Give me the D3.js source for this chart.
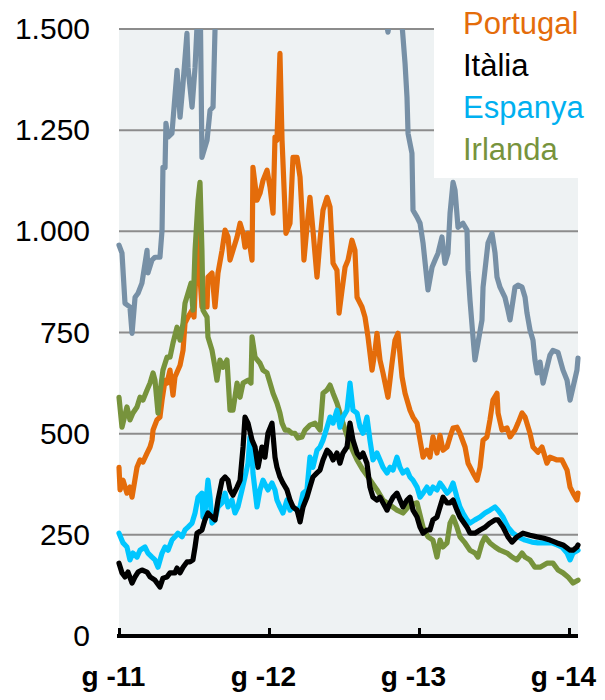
<!DOCTYPE html>
<html>
<head>
<meta charset="utf-8">
<script src="https://cdn.jsdelivr.net/npm/d3@7"></script>
<style>
  body { margin: 0; background: #fff; }
  text { font-family: "Liberation Sans", Arial, sans-serif; }
</style>
</head>
<body>
<svg id="chart" width="605" height="700"></svg>
<script>
// dades: [any decimal, punts bàsics]
const yTicks = [0, 250, 500, 750, 1000, 1250, 1500];
const xTicks = [2011, 2012, 2013, 2014];
const legendNames = ["Portugal", "Itàlia", "Espanya", "Irlanda"];

const greece = [
  [2011.000,966],[2011.020,946],[2011.040,822],[2011.073,813],[2011.087,748],[2011.107,837],[2011.127,847],
  [2011.153,872],[2011.187,953],[2011.193,897],[2011.220,929],[2011.240,936],[2011.273,936],[2011.287,1003],
  [2011.293,1158],[2011.307,1158],[2011.313,1267],[2011.327,1233],[2011.353,1242],[2011.387,1398],[2011.407,1282],
  [2011.427,1366],[2011.453,1489],[2011.460,1405],[2011.487,1307],[2011.507,1405],[2011.527,1560],[2011.540,1620],
  [2011.553,1183],[2011.587,1225],[2011.607,1299],[2011.627,1307],[2011.640,1497],[2011.660,1650],[2011.750,1900],
  [2011.850,2200],[2011.950,2600],[2012.050,3000],[2012.150,3400],[2012.250,2100],[2012.400,2600],[2012.550,2300],
  [2012.650,1900],[2012.750,1600],[2012.793,1492],[2012.820,1560],[2012.887,1510],[2012.907,1415],[2012.920,1331],
  [2012.927,1242],[2012.953,1193],[2012.960,1052],[2012.987,1035],[2013.007,1020],[2013.027,971],[2013.053,879],
  [2013.060,855],[2013.087,911],[2013.107,929],[2013.127,946],[2013.153,986],[2013.173,921],[2013.193,946],
  [2013.207,1045],[2013.227,1121],[2013.240,1102],[2013.260,1010],[2013.293,1020],[2013.320,1003],[2013.327,904],
  [2013.340,830],[2013.360,739],[2013.373,682],[2013.393,724],[2013.420,781],[2013.427,862],[2013.460,971],
  [2013.487,995],[2013.507,946],[2013.520,887],[2013.540,862],[2013.573,837],[2013.593,805],[2013.607,781],
  [2013.627,830],[2013.640,862],[2013.660,867],[2013.687,862],[2013.707,837],[2013.720,798],[2013.740,756],
  [2013.760,731],[2013.773,682],[2013.787,650],[2013.807,677],[2013.827,625],[2013.853,664],[2013.873,694],
  [2013.893,706],[2013.927,701],[2013.960,657],[2013.987,632],[2014.007,583],[2014.027,615],[2014.053,657],
  [2014.060,687]
];

const portugal = [
  [2011.000,417],[2011.007,361],[2011.027,385],[2011.053,353],[2011.073,368],[2011.087,343],[2011.120,417],
  [2011.140,435],[2011.160,430],[2011.187,452],[2011.207,467],[2011.220,484],[2011.227,509],[2011.253,534],
  [2011.273,541],[2011.287,583],[2011.307,632],[2011.320,625],[2011.340,657],[2011.360,595],[2011.373,640],
  [2011.407,669],[2011.427,706],[2011.440,773],[2011.460,788],[2011.487,805],[2011.500,788],[2011.513,904],
  [2011.527,1003],[2011.540,887],[2011.553,813],[2011.587,813],[2011.593,887],[2011.620,897],[2011.640,813],
  [2011.660,897],[2011.687,953],[2011.707,1003],[2011.727,986],[2011.740,929],[2011.760,953],[2011.787,986],
  [2011.807,1020],[2011.827,995],[2011.840,961],[2011.860,995],[2011.887,929],[2011.893,1158],[2011.920,1077],
  [2011.940,1094],[2011.960,1126],[2011.987,1151],[2012.007,1109],[2012.027,1045],[2012.040,1233],[2012.053,1225],
  [2012.073,1440],[2012.087,1225],[2012.113,995],[2012.140,1020],[2012.160,1183],[2012.187,1183],[2012.207,1134],
  [2012.220,1045],[2012.233,929],[2012.253,1010],[2012.273,1084],[2012.293,1003],[2012.320,887],[2012.340,978],
  [2012.360,1052],[2012.387,1084],[2012.407,1060],[2012.427,921],[2012.453,904],[2012.467,798],[2012.487,855],
  [2012.507,911],[2012.527,929],[2012.553,978],[2012.573,953],[2012.587,837],[2012.620,813],[2012.640,788],
  [2012.660,739],[2012.687,657],[2012.707,706],[2012.720,748],[2012.740,682],[2012.760,650],[2012.793,590],
  [2012.820,674],[2012.840,731],[2012.860,748],[2012.887,640],[2012.907,600],[2012.940,558],[2012.960,541],
  [2012.987,526],[2013.007,484],[2013.027,442],[2013.053,459],[2013.073,442],[2013.093,492],[2013.120,452],
  [2013.140,496],[2013.160,459],[2013.187,467],[2013.207,492],[2013.227,514],[2013.253,516],[2013.273,501],
  [2013.307,467],[2013.327,427],[2013.360,403],[2013.387,385],[2013.407,417],[2013.427,484],[2013.453,492],
  [2013.473,534],[2013.493,583],[2013.520,600],[2013.527,551],[2013.553,509],[2013.587,514],[2013.607,492],
  [2013.640,509],[2013.660,526],[2013.687,551],[2013.707,541],[2013.740,501],[2013.760,467],[2013.793,454],
  [2013.820,467],[2013.853,427],[2013.873,442],[2013.920,435],[2013.953,435],[2013.987,410],[2014.007,368],
  [2014.027,353],[2014.053,336],[2014.060,353]
];

const ireland = [
  [2011.000,590],[2011.020,516],[2011.053,566],[2011.073,534],[2011.093,551],[2011.120,566],[2011.140,590],
  [2011.160,583],[2011.187,608],[2011.207,625],[2011.227,650],[2011.240,632],[2011.260,551],[2011.273,600],
  [2011.293,657],[2011.320,689],[2011.340,689],[2011.360,724],[2011.387,763],[2011.407,731],[2011.427,773],
  [2011.440,822],[2011.460,847],[2011.480,872],[2011.493,805],[2011.507,953],[2011.527,1077],[2011.540,1121],
  [2011.553,953],[2011.560,805],[2011.587,788],[2011.593,739],[2011.620,706],[2011.640,664],[2011.653,632],
  [2011.673,682],[2011.693,664],[2011.720,682],[2011.740,558],[2011.760,558],[2011.787,625],[2011.807,590],
  [2011.827,625],[2011.860,632],[2011.880,625],[2011.887,739],[2011.907,689],[2011.940,674],[2011.960,657],
  [2011.987,650],[2012.007,625],[2012.027,600],[2012.053,576],[2012.073,551],[2012.087,526],[2012.107,509],
  [2012.127,509],[2012.153,501],[2012.173,501],[2012.193,489],[2012.220,492],[2012.240,509],[2012.273,521],
  [2012.307,526],[2012.340,509],[2012.353,566],[2012.360,600],[2012.387,608],[2012.407,620],[2012.427,600],
  [2012.453,576],[2012.473,551],[2012.493,526],[2012.540,473],[2012.587,435],[2012.627,410],[2012.673,386],
  [2012.720,361],[2012.760,336],[2012.787,329],[2012.853,311],[2012.893,304],[2012.940,324],[2012.987,329],
  [2013.027,269],[2013.060,245],[2013.093,237],[2013.120,195],[2013.140,237],[2013.160,220],[2013.187,230],
  [2013.207,279],[2013.227,294],[2013.253,269],[2013.273,245],[2013.307,230],[2013.340,212],[2013.373,205],
  [2013.393,195],[2013.420,230],[2013.440,245],[2013.473,230],[2013.507,220],[2013.540,212],[2013.587,205],
  [2013.620,195],[2013.653,188],[2013.687,205],[2013.707,195],[2013.740,188],[2013.773,170],[2013.807,170],
  [2013.853,180],[2013.893,180],[2013.927,163],[2013.960,156],[2013.993,146],[2014.027,131],[2014.060,138]
];

const italy = [
  [2011.000,180],[2011.020,156],[2011.040,146],[2011.060,158],[2011.087,131],[2011.107,146],[2011.127,158],
  [2011.153,163],[2011.187,158],[2011.207,146],[2011.240,138],[2011.273,121],[2011.293,143],[2011.320,146],
  [2011.340,156],[2011.373,156],[2011.387,168],[2011.407,156],[2011.427,170],[2011.453,183],[2011.473,183],
  [2011.493,188],[2011.507,220],[2011.520,254],[2011.553,262],[2011.573,287],[2011.593,304],[2011.620,294],
  [2011.640,287],[2011.660,336],[2011.687,385],[2011.707,393],[2011.727,385],[2011.740,361],[2011.760,348],
  [2011.787,368],[2011.807,385],[2011.827,467],[2011.840,541],[2011.860,526],[2011.887,484],[2011.907,467],
  [2011.927,417],[2011.953,467],[2011.973,442],[2011.993,501],[2012.020,526],[2012.040,442],[2012.053,417],
  [2012.073,393],[2012.093,378],[2012.120,361],[2012.140,336],[2012.160,319],[2012.187,311],[2012.207,282],
  [2012.227,319],[2012.253,343],[2012.273,368],[2012.293,393],[2012.320,403],[2012.340,410],[2012.360,435],
  [2012.387,459],[2012.407,452],[2012.427,435],[2012.453,452],[2012.473,427],[2012.493,452],[2012.520,467],
  [2012.540,526],[2012.560,484],[2012.587,452],[2012.607,442],[2012.627,452],[2012.653,427],[2012.673,368],
  [2012.693,343],[2012.720,336],[2012.740,343],[2012.760,329],[2012.787,311],[2012.807,329],[2012.827,343],
  [2012.853,353],[2012.873,336],[2012.893,319],[2012.920,336],[2012.940,343],[2012.960,311],[2012.987,294],
  [2013.007,269],[2013.027,254],[2013.053,262],[2013.073,262],[2013.093,287],[2013.120,294],[2013.140,319],
  [2013.160,343],[2013.187,329],[2013.207,329],[2013.227,336],[2013.253,311],[2013.273,294],[2013.320,269],
  [2013.340,254],[2013.373,254],[2013.407,262],[2013.440,269],[2013.473,279],[2013.507,287],[2013.527,287],
  [2013.560,269],[2013.593,245],[2013.620,232],[2013.653,245],[2013.693,254],[2013.740,249],[2013.787,245],
  [2013.827,242],[2013.873,237],[2013.920,230],[2013.960,225],[2014.007,212],[2014.027,212],[2014.053,220],
  [2014.060,225]
];

const spain = [
  [2011.000,254],[2011.027,230],[2011.053,220],[2011.073,188],[2011.093,205],[2011.120,195],[2011.140,212],
  [2011.173,220],[2011.193,205],[2011.220,195],[2011.240,188],[2011.260,170],[2011.287,205],[2011.307,220],
  [2011.327,212],[2011.353,237],[2011.373,245],[2011.393,254],[2011.420,245],[2011.440,262],[2011.460,269],
  [2011.487,279],[2011.507,304],[2011.527,343],[2011.553,353],[2011.560,294],[2011.573,304],[2011.593,385],
  [2011.607,343],[2011.620,279],[2011.640,287],[2011.660,319],[2011.687,329],[2011.707,353],[2011.727,319],
  [2011.753,336],[2011.773,304],[2011.793,319],[2011.820,361],[2011.840,393],[2011.860,427],[2011.873,492],
  [2011.887,467],[2011.893,403],[2011.920,319],[2011.940,361],[2011.960,385],[2011.993,361],[2012.020,378],
  [2012.040,361],[2012.053,336],[2012.073,319],[2012.093,304],[2012.120,336],[2012.140,311],[2012.160,319],
  [2012.187,311],[2012.207,319],[2012.227,353],[2012.253,361],[2012.273,442],[2012.293,417],[2012.320,459],
  [2012.340,467],[2012.360,484],[2012.387,516],[2012.407,541],[2012.427,526],[2012.453,558],[2012.473,516],
  [2012.493,541],[2012.520,558],[2012.540,625],[2012.560,558],[2012.587,551],[2012.607,516],[2012.627,501],
  [2012.653,541],[2012.673,484],[2012.693,435],[2012.720,452],[2012.740,435],[2012.760,417],[2012.787,403],
  [2012.807,417],[2012.827,410],[2012.853,442],[2012.873,417],[2012.893,403],[2012.920,410],[2012.940,393],
  [2012.960,385],[2012.987,368],[2013.007,343],[2013.027,353],[2013.053,368],[2013.073,353],[2013.093,368],
  [2013.120,361],[2013.140,378],[2013.160,368],[2013.187,353],[2013.207,361],[2013.227,378],[2013.253,343],
  [2013.273,319],[2013.293,304],[2013.320,287],[2013.340,279],[2013.373,287],[2013.407,294],[2013.440,304],
  [2013.473,311],[2013.507,319],[2013.527,311],[2013.560,294],[2013.593,269],[2013.627,254],[2013.660,245],
  [2013.707,237],[2013.753,232],[2013.793,230],[2013.840,230],[2013.887,230],[2013.920,225],[2013.953,220],
  [2013.987,205],[2014.007,188],[2014.027,205],[2014.060,212]
];

const svg = d3.select("#chart");
const plot = { left: 119, right: 578, top: 29, bottom: 636 };

const x = d3.scaleLinear().domain([2011, 2014.06]).range([plot.left, plot.right]);
const y = d3.scaleLinear().domain([0, 1500]).range([plot.bottom, plot.top]);

// format català: 1.500
const fmt = d3.formatLocale({ decimal: ",", thousands: ".", grouping: [3], currency: ["", "€"] }).format(",");

// fons de l'àrea de gràfic
svg.append("rect")
  .attr("x", plot.left).attr("y", plot.top)
  .attr("width", plot.right - plot.left).attr("height", plot.bottom - plot.top)
  .attr("fill", "#eef2f3");

// línies de graella
svg.append("g")
  .selectAll("line")
  .data(yTicks.filter((d) => d > 0))
  .enter()
  .append("line")
  .attr("x1", plot.left).attr("x2", plot.right)
  .attr("y1", (d) => y(d)).attr("y2", (d) => y(d))
  .attr("stroke", "#8c8c8c")
  .attr("stroke-width", 2);

// eix Y (només etiquetes)
const yAxis = svg.append("g")
  .attr("transform", `translate(${plot.left},0)`)
  .call(d3.axisLeft(y).tickValues(yTicks).tickSize(0).tickPadding(29).tickFormat(fmt));
yAxis.select(".domain").remove();
yAxis.selectAll("text")
  .style("font-size", "30px")
  .style("font-family", "'Liberation Sans', Arial, sans-serif")
  .attr("fill", "#000");

svg.append("clipPath").attr("id", "clip")
  .append("rect")
  .attr("x", plot.left - 3).attr("y", plot.top)
  .attr("width", plot.right - plot.left + 6).attr("height", plot.bottom - plot.top);

const line = d3.line()
  .x((d) => x(d[0]))
  .y((d) => y(d[1]));

const series = [
  { data: greece, color: "#7790a6" },
  { data: portugal, color: "#e46c0a" },
  { data: ireland, color: "#77933c" },
  { data: spain, color: "#00c6ff" },
  { data: italy, color: "#000000" }
];

svg.append("g")
  .attr("clip-path", "url(#clip)")
  .selectAll("path")
  .data(series)
  .enter()
  .append("path")
  .attr("d", (d) => line(d.data))
  .attr("fill", "none")
  .attr("stroke", (d) => d.color)
  .attr("stroke-width", 5.2)
  .attr("stroke-linejoin", "round")
  .attr("stroke-linecap", "round");

// eix X
const xAxis = svg.append("g")
  .attr("transform", `translate(0,${plot.bottom})`)
  .call(d3.axisBottom(x).tickValues(xTicks).tickSizeInner(-8).tickSizeOuter(0)
    .tickFormat((d) => "g -" + String(d).slice(2)));
xAxis.select(".domain")
  .attr("d", `M${plot.left - 2},0H${plot.right}`)
  .attr("stroke", "#000")
  .attr("stroke-width", 4);
xAxis.selectAll(".tick line").attr("stroke", "#000").attr("stroke-width", 3);
xAxis.selectAll("text")
  .attr("y", 50).attr("dy", 0).attr("dx", -6)
  .style("font-size", "28px")
  .style("font-weight", "bold")
  .style("font-family", "'Liberation Sans', Arial, sans-serif")
  .attr("fill", "#000");

// llegenda
const legendColors = ["#e46c0a", "#000000", "#00b0f0", "#77933c"];
svg.append("rect")
  .attr("x", 434).attr("y", 0)
  .attr("width", 171).attr("height", 178)
  .attr("fill", "#fff");

svg.append("g")
  .selectAll("text")
  .data(legendNames)
  .enter()
  .append("text")
  .attr("x", 463)
  .attr("y", (d, i) => 34 + i * 42)
  .attr("fill", (d, i) => legendColors[i])
  .style("font-size", "31px")
  .text((d) => d);
</script>
</body>
</html>
